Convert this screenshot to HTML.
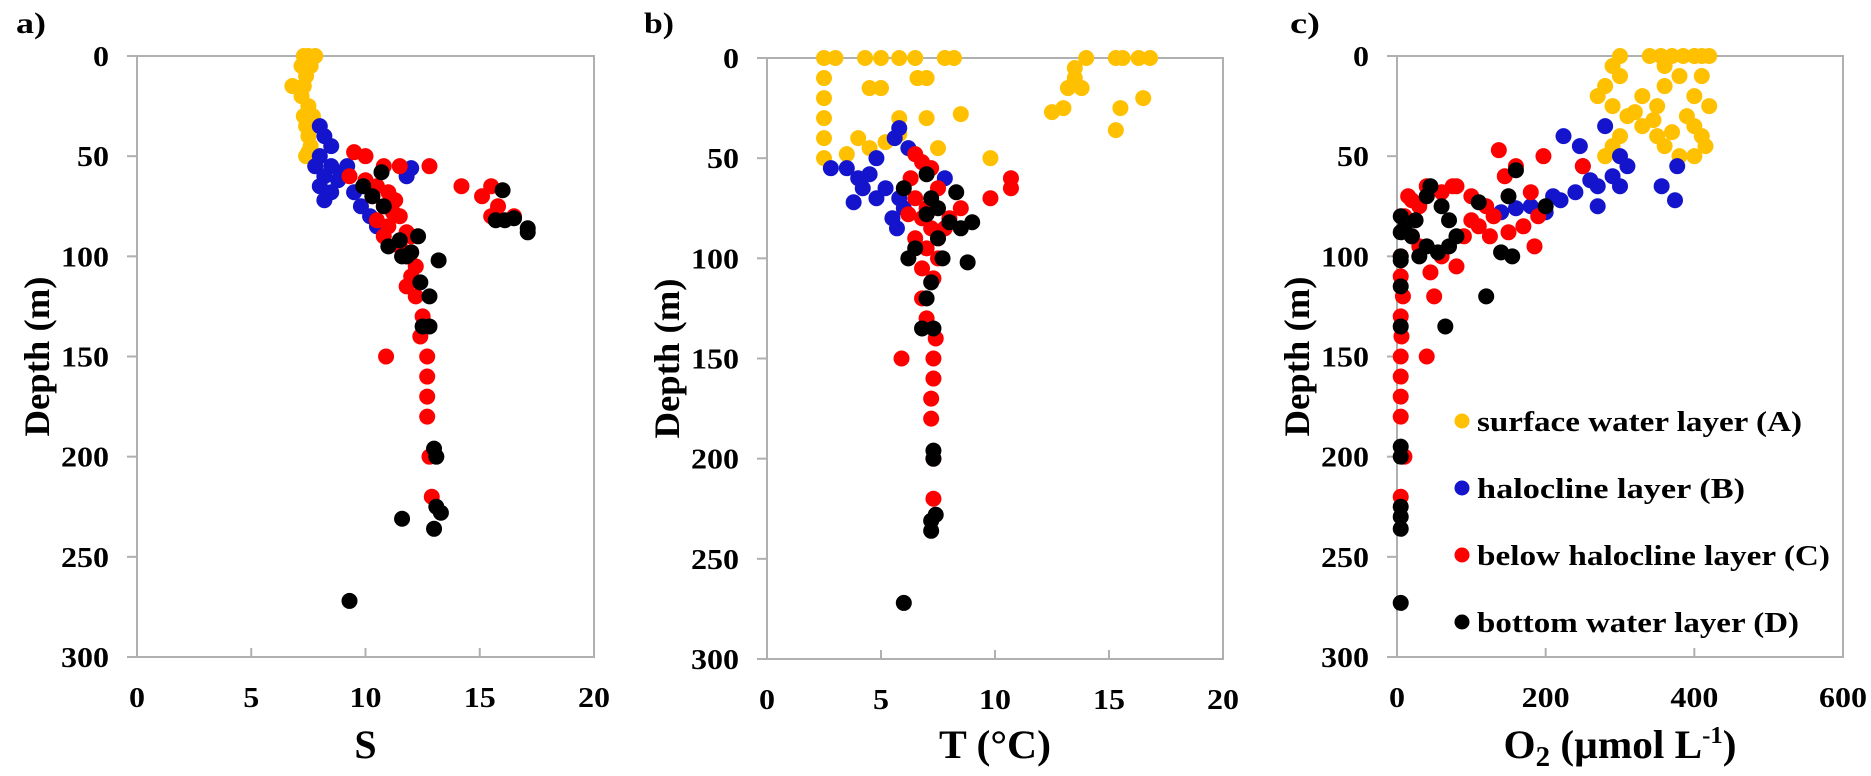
<!DOCTYPE html>
<html><head><meta charset="utf-8">
<style>
html,body{margin:0;padding:0;background:#fff;}
svg{display:block;font-family:"Liberation Serif",serif;font-weight:bold;}
</style></head>
<body>
<svg id="chart" width="1871" height="776" viewBox="0 0 1871 776" xmlns="http://www.w3.org/2000/svg"></svg>
<script>
const depthTicks=[0,50,100,150,200,250,300];
const sTicks=[0,5,10,15,20];
const tTicks=[0,5,10,15,20];
const oTicks=[0,200,400,600];
const layerNames=["surface water layer (A)","halocline layer (B)","below halocline layer (C)","bottom water layer (D)"];
const layerColors=["#FFC000","#1414CC","#FF0000","#000000"];

const aA=[[7.3,0],[7.5,0],[7.8,0],[7.2,5],[7.4,10],[6.8,15],[7.2,20],[7.5,25],[7.3,30],[7.4,35],[7.5,40],[7.6,45],[7.4,50],[7.8,55],[7.6,5],[7.3,15],[7.7,30],[7.5,48]];
const aB=[[8,35],[8.2,40],[8.5,45],[8,50],[7.8,55],[8.5,55],[9,58],[8.2,60],[8.8,62],[8,65],[8.5,68],[8.2,72],[9.5,68],[9.8,75],[10.2,80],[10.5,85],[12,56],[11.8,60],[9.2,55]];
const aC=[[9.5,48],[10,50],[10.8,55],[11.5,55],[12.8,55],[9.3,60],[10,62],[10.5,65],[11,68],[10.3,70],[10.8,75],[11.2,78],[11.5,80],[10.5,82],[11,85],[11.8,88],[12,90],[11.5,95],[12,98],[11.8,100],[12.2,105],[11.8,115],[12.2,120],[12.5,130],[12.4,140],[10.9,150],[12.7,150],[12.7,160],[12.7,170],[12.7,180],[12.8,200],[12.9,220],[14.2,65],[15.1,70],[15.5,65],[15.8,75],[16.5,80],[15.5,80],[12,110],[11.3,72],[10.8,90]];
const aD=[[9.9,65],[10.7,58],[10.3,70],[10.8,75],[11,95],[11.5,92],[11.8,100],[12,98],[12.3,90],[11.6,100],[13.2,102],[12.4,113],[12.8,120],[12.5,135],[12.8,135],[16,67],[15.7,82],[16.1,82],[16.5,81],[17.1,86],[17.1,88],[13,196],[13.1,200],[13.1,225],[13.3,228],[11.6,231],[13,236],[9.3,272]];

const bA=[[2.5,0],[3,0],[4.3,0],[5,0],[5.8,0],[6.5,0],[7.8,0],[8.2,0],[14,0],[15.3,0],[15.6,0],[16.3,0],[16.8,0],[2.5,10],[2.5,20],[2.5,30],[2.5,40],[2.5,50],[4.5,15],[5,15],[6.6,10],[7,10],[13.5,5],[13.5,10],[13.2,15],[13.8,15],[13,25],[12.5,27],[15.5,25],[15.3,36],[16.5,20],[7,30],[8.5,28],[7.5,45],[9.8,50],[4,40],[4.5,45],[5.2,42],[5.8,38],[3.5,48],[5.8,30]];
const bB=[[2.8,55],[3.5,55],[4,60],[4.5,58],[4.2,65],[3.8,72],[4.8,50],[5.6,40],[5.8,35],[5.2,65],[5.8,70],[6,75],[5.5,80],[5.7,85],[6.2,45],[7.8,60],[4.8,70]];
const bC=[[6.5,48],[6.8,52],[7.2,55],[6.3,60],[7.5,65],[6.5,70],[7,75],[6.2,78],[6.8,80],[7.2,85],[6.5,90],[7,95],[7.5,100],[6.8,105],[7.3,110],[6.8,120],[7,130],[7.4,140],[5.9,150],[7.3,150],[7.3,160],[7.2,170],[7.2,180],[7.3,200],[7.3,220],[9.8,70],[10.7,60],[10.7,65],[8.5,75],[8,80],[7.8,85],[7.5,90]];
const bD=[[7,58],[6,65],[7.2,70],[8.3,67],[7.5,75],[7,78],[8,82],[8.5,85],[9,82],[7.5,90],[6.5,95],[6.2,100],[7.7,100],[8.8,102],[7.2,112],[7,120],[6.8,135],[7.3,135],[7.3,196],[7.3,200],[7.4,228],[7.2,231],[7.2,236],[6,272]];

const cA=[[340,0],[355,0],[370,0],[385,0],[400,0],[410,0],[420,0],[290,5],[300,10],[280,15],[270,20],[290,25],[310,30],[330,35],[350,40],[360,45],[380,50],[400,50],[410,40],[420,25],[400,20],[380,10],[360,15],[350,25],[330,20],[320,28],[300,40],[290,45],[280,50],[410,10],[390,30],[370,38],[400,35],[415,45],[300,0],[360,5],[345,32]];
const cB=[[224,40],[246,45],[280,35],[300,50],[290,60],[310,55],[270,65],[260,62],[240,68],[220,72],[200,78],[180,75],[160,76],[140,78],[250,55],[377,55],[356,65],[374,72],[270,75],[300,65],[210,70]];
const cC=[[5,100],[5,110],[8,120],[5,130],[6,140],[5,150],[5,160],[5,170],[5,180],[10,200],[5,220],[15,70],[20,72],[30,75],[40,65],[60,68],[80,65],[100,70],[120,75],[137,47],[145,60],[160,55],[180,68],[197,50],[190,80],[170,85],[150,88],[130,80],[110,85],[90,90],[60,100],[80,105],[50,120],[45,108],[75,65],[40,150],[250,55],[10,80],[20,90],[30,95],[100,82],[125,90],[185,95]];
const cD=[[5,80],[5,88],[10,86],[20,90],[25,82],[40,70],[45,65],[60,75],[70,82],[80,90],[30,100],[40,95],[55,98],[70,95],[110,73],[150,70],[160,57],[200,75],[140,98],[155,100],[120,120],[65,135],[5,100],[5,102],[5,115],[5,135],[5,195],[5,200],[5,225],[5,230],[5,236],[5,273]];

const svg=document.getElementById('chart');
const NS="http://www.w3.org/2000/svg";
function mk(tag,attrs,parent){const e=document.createElementNS(NS,tag);for(const k in attrs)e.setAttribute(k,attrs[k]);(parent||svg).appendChild(e);return e;}
const AX="#b0b0b0";

const panels=[
 {id:"a",x0:137,x1:594,y0:56,y1:657,max:20,ticks:sTicks,series:[aA,aB,aC,aD],lx:16},
 {id:"b",x0:767,x1:1223,y0:58,y1:659,max:20,ticks:tTicks,series:[bA,bB,bC,bD],lx:644},
 {id:"c",x0:1397,x1:1843,y0:56,y1:657,max:600,ticks:oTicks,series:[cA,cB,cC,cD],lx:1290}
];
const seriesKeys=["surface","halocline","below-halocline","bottom"];
panels.forEach(p=>{
  const g=mk('g',{});
  
  
  const xs=v=>p.x0+(v/p.max)*(p.x1-p.x0);
  const ys=d=>p.y0+(d/300)*(p.y1-p.y0);
  const ax=mk('g',{},g);
  
  
  mk('rect',{x:p.x0,y:p.y0,width:p.x1-p.x0,height:p.y1-p.y0,fill:"none",stroke:AX,"stroke-width":2},ax);
  depthTicks.forEach(d=>{
    const y=ys(d);
    mk('line',{x1:p.x0-10,y1:y,x2:p.x0,y2:y,stroke:AX,"stroke-width":2},ax);
    const s=String(d);
    const t=mk('text',{x:p.x0-28,y:y+10,"text-anchor":"end","font-size":29,textLength:s.length*16,lengthAdjust:"spacingAndGlyphs"},ax);t.textContent=s;
    
    
  });
  p.ticks.forEach(v=>{
    const x=xs(v);
    mk('line',{x1:x,y1:p.y1-9,x2:x,y2:p.y1,stroke:AX,"stroke-width":2},ax);
    const s=String(v);
    const t=mk('text',{x:x,y:p.y1+50,"text-anchor":"middle","font-size":29,textLength:s.length*16,lengthAdjust:"spacingAndGlyphs"},ax);t.textContent=s;
    
    
  });
  const cy=(p.y0+p.y1)/2;
  const yt=mk('text',{transform:`translate(${p.x0-88},${cy}) rotate(-90)`,"text-anchor":"middle","font-size":36,textLength:160,lengthAdjust:"spacingAndGlyphs"},g);
  yt.textContent="Depth (m)";
  
  
  const xt=mk('text',{x:(p.x0+p.x1)/2,y:758,"text-anchor":"middle","font-size":40},g);
  if(p.id==="c"){xt.innerHTML='O<tspan font-size="28" dy="8">2</tspan><tspan dy="-8"> (µmol L</tspan><tspan font-size="24" dy="-15">-1</tspan><tspan dy="15">)</tspan>';xt.setAttribute('x',1620);xt.setAttribute('textLength',233);xt.setAttribute('lengthAdjust','spacingAndGlyphs');}
  else if(p.id==="b"){xt.textContent="T (°C)";xt.setAttribute('textLength',112);xt.setAttribute('lengthAdjust','spacingAndGlyphs');}
  else xt.textContent="S";
  
  
  const pl=mk('text',{x:p.lx,y:33,"font-size":30,textLength:30,lengthAdjust:"spacingAndGlyphs"},g);
  pl.textContent=p.id+")";
  
  
  p.series.forEach((s,i)=>{
    const sg=mk('g',{fill:layerColors[i]},g);
    
    
    s.forEach(pt=>{
      const c=mk('circle',{cx:xs(pt[0]),cy:ys(pt[1]),r:8},sg);
      
      
    });
  });
});
const lg=mk('g',{});


const legY=[421,488,555,622];
const legLen=[325,268,353,322];
layerNames.forEach((n,i)=>{
  const e=mk('g',{},lg);
  
  
  mk('circle',{cx:1462,cy:legY[i],r:7.5,fill:layerColors[i]},e);
  const t=mk('text',{x:1477,y:legY[i]+10,"font-size":29,textLength:legLen[i],lengthAdjust:"spacingAndGlyphs"},e);t.textContent=n;
});
</script>
</body></html>
